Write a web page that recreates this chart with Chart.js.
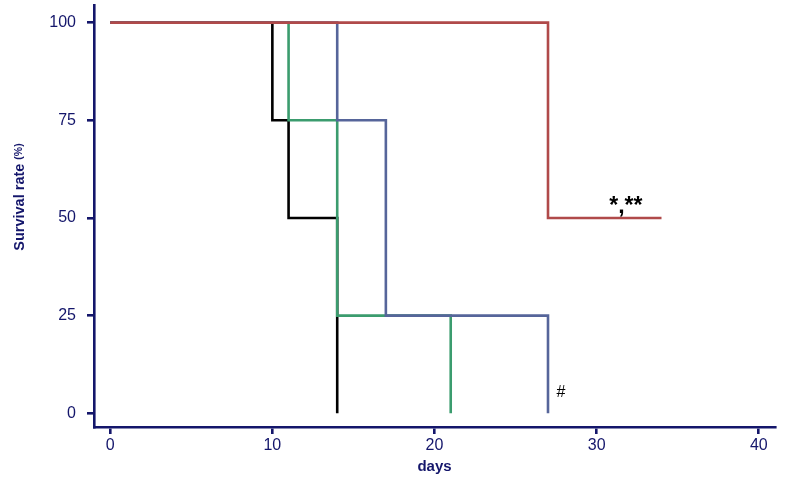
<!DOCTYPE html>
<html>
<head>
    <title>Survival</title>
    <script src="https://cdn.jsdelivr.net/npm/chart.js"></script>
    <style>
        body { margin: 0; background: #fff; }
    </style>
</head>
<body>
    <canvas id="survChart" width="787" height="488"></canvas>
    <script>
        // survival curves: day of each event and % surviving after it
        const redDays = [0, 27, 34];
        const redSurv = [100, 50, 50];
        const blackDays = [0, 10, 11, 14];
        const blackSurv = [100, 75, 50, 0];
        const greenDays = [0, 11, 14, 21];
        const greenSurv = [100, 75, 25, 0];
        const blueDays = [0, 14, 17, 27];
        const blueSurv = [100, 75, 25, 0];

        const xTicks = [0, 10, 20, 30, 40];
        const yTicks = [0, 25, 50, 75, 100];

        // significance marks: [day, survival, text, font]
        const marks = [
            [31.8, 52.8, '*,**', 'bold 23px'],
            [27.8, 5.2, '#', '16px']
        ];

        const navy = '#14166b';

        function pts(days, surv) {
            return days.map((d, i) => ({ x: d, y: surv[i] }));
        }

        const marksPlugin = {
            id: 'marks',
            afterDatasetsDraw(chart) {
                const ctx = chart.ctx;
                const xs = chart.scales.x, ys = chart.scales.y;
                ctx.save();
                ctx.fillStyle = '#000';
                ctx.textAlign = 'center';
                ctx.textBaseline = 'middle';
                marks.forEach(m => {
                    ctx.font = m[3] + ' "Liberation Sans", Arial, sans-serif';
                    ctx.fillText(m[2], xs.getPixelForValue(m[0]), ys.getPixelForValue(m[1]));
                });
                ctx.restore();
            },
            afterDraw(chart) {
                // y axis title with smaller "(%)"
                const ctx = chart.ctx;
                ctx.save();
                ctx.translate(20, 197);
                ctx.rotate(-Math.PI / 2);
                ctx.fillStyle = navy;
                ctx.textBaseline = 'middle';
                const f1 = 'bold 14.5px "Liberation Sans", Arial, sans-serif';
                const f2 = 'bold 10.5px "Liberation Sans", Arial, sans-serif';
                ctx.font = f1;
                const t1 = 'Survival rate ';
                const w1 = ctx.measureText(t1).width;
                ctx.font = f2;
                const w2 = ctx.measureText('(%)').width;
                const start = -(w1 + w2) / 2;
                ctx.font = f1;
                ctx.textAlign = 'left';
                ctx.fillText(t1, start, 0);
                ctx.font = f2;
                ctx.fillText('(%)', start + w1, -1);
                ctx.restore();
            }
        };

        const ctx = document.getElementById('survChart').getContext('2d');
        new Chart(ctx, {
            type: 'line',
            data: {
                datasets: [
                    { data: pts(redDays, redSurv), borderColor: '#b04a4a', order: 0 },
                    { data: pts(blueDays, blueSurv), borderColor: '#56659a', order: 1 },
                    { data: pts(greenDays, greenSurv), borderColor: '#3b9c6e', order: 2 },
                    { data: pts(blackDays, blackSurv), borderColor: '#000000', order: 3 }
                ]
            },
            options: {
                responsive: false,
                animation: false,
                layout: { autoPadding: false, padding: { left: 0, right: 12, top: 5, bottom: 0 } },
                elements: {
                    line: { stepped: 'before', borderWidth: 2.6, fill: false, tension: 0 },
                    point: { radius: 0 }
                },
                plugins: {
                    legend: { display: false },
                    tooltip: { enabled: false }
                },
                scales: {
                    x: {
                        type: 'linear',
                        min: -1,
                        max: 41,
                        afterBuildTicks: s => { s.ticks = xTicks.map(v => ({ value: v })); },
                        afterFit: s => { s.height = 61; s.paddingLeft = 0; s.paddingRight = 0; },
                        border: { display: true, color: navy, width: 2.6 },
                        grid: { display: true, drawOnChartArea: false, drawTicks: true, tickLength: 7, color: navy, lineWidth: 2.6 },
                        ticks: {
                            color: navy,
                            padding: 2,
                            maxRotation: 0,
                            font: { family: '"Liberation Sans", Arial, sans-serif', size: 16 }
                        },
                        title: {
                            display: true,
                            text: 'days',
                            color: navy,
                            padding: { top: 0, bottom: 12 },
                            font: { family: '"Liberation Sans", Arial, sans-serif', size: 15, weight: 'bold' }
                        }
                    },
                    y: {
                        type: 'linear',
                        min: -3.5,
                        max: 104.5,
                        afterBuildTicks: s => { s.ticks = yTicks.map(v => ({ value: v })); },
                        afterFit: s => { s.width = 94; s.paddingTop = 0; s.paddingBottom = 0; },
                        border: { display: true, color: navy, width: 2.6 },
                        grid: { display: true, drawOnChartArea: false, drawTicks: true, tickLength: 7, color: navy, lineWidth: 2.6 },
                        ticks: {
                            color: navy,
                            padding: 11,
                            font: { family: '"Liberation Sans", Arial, sans-serif', size: 16 }
                        }
                    }
                }
            },
            plugins: [marksPlugin]
        });
    </script>
</body>
</html>
